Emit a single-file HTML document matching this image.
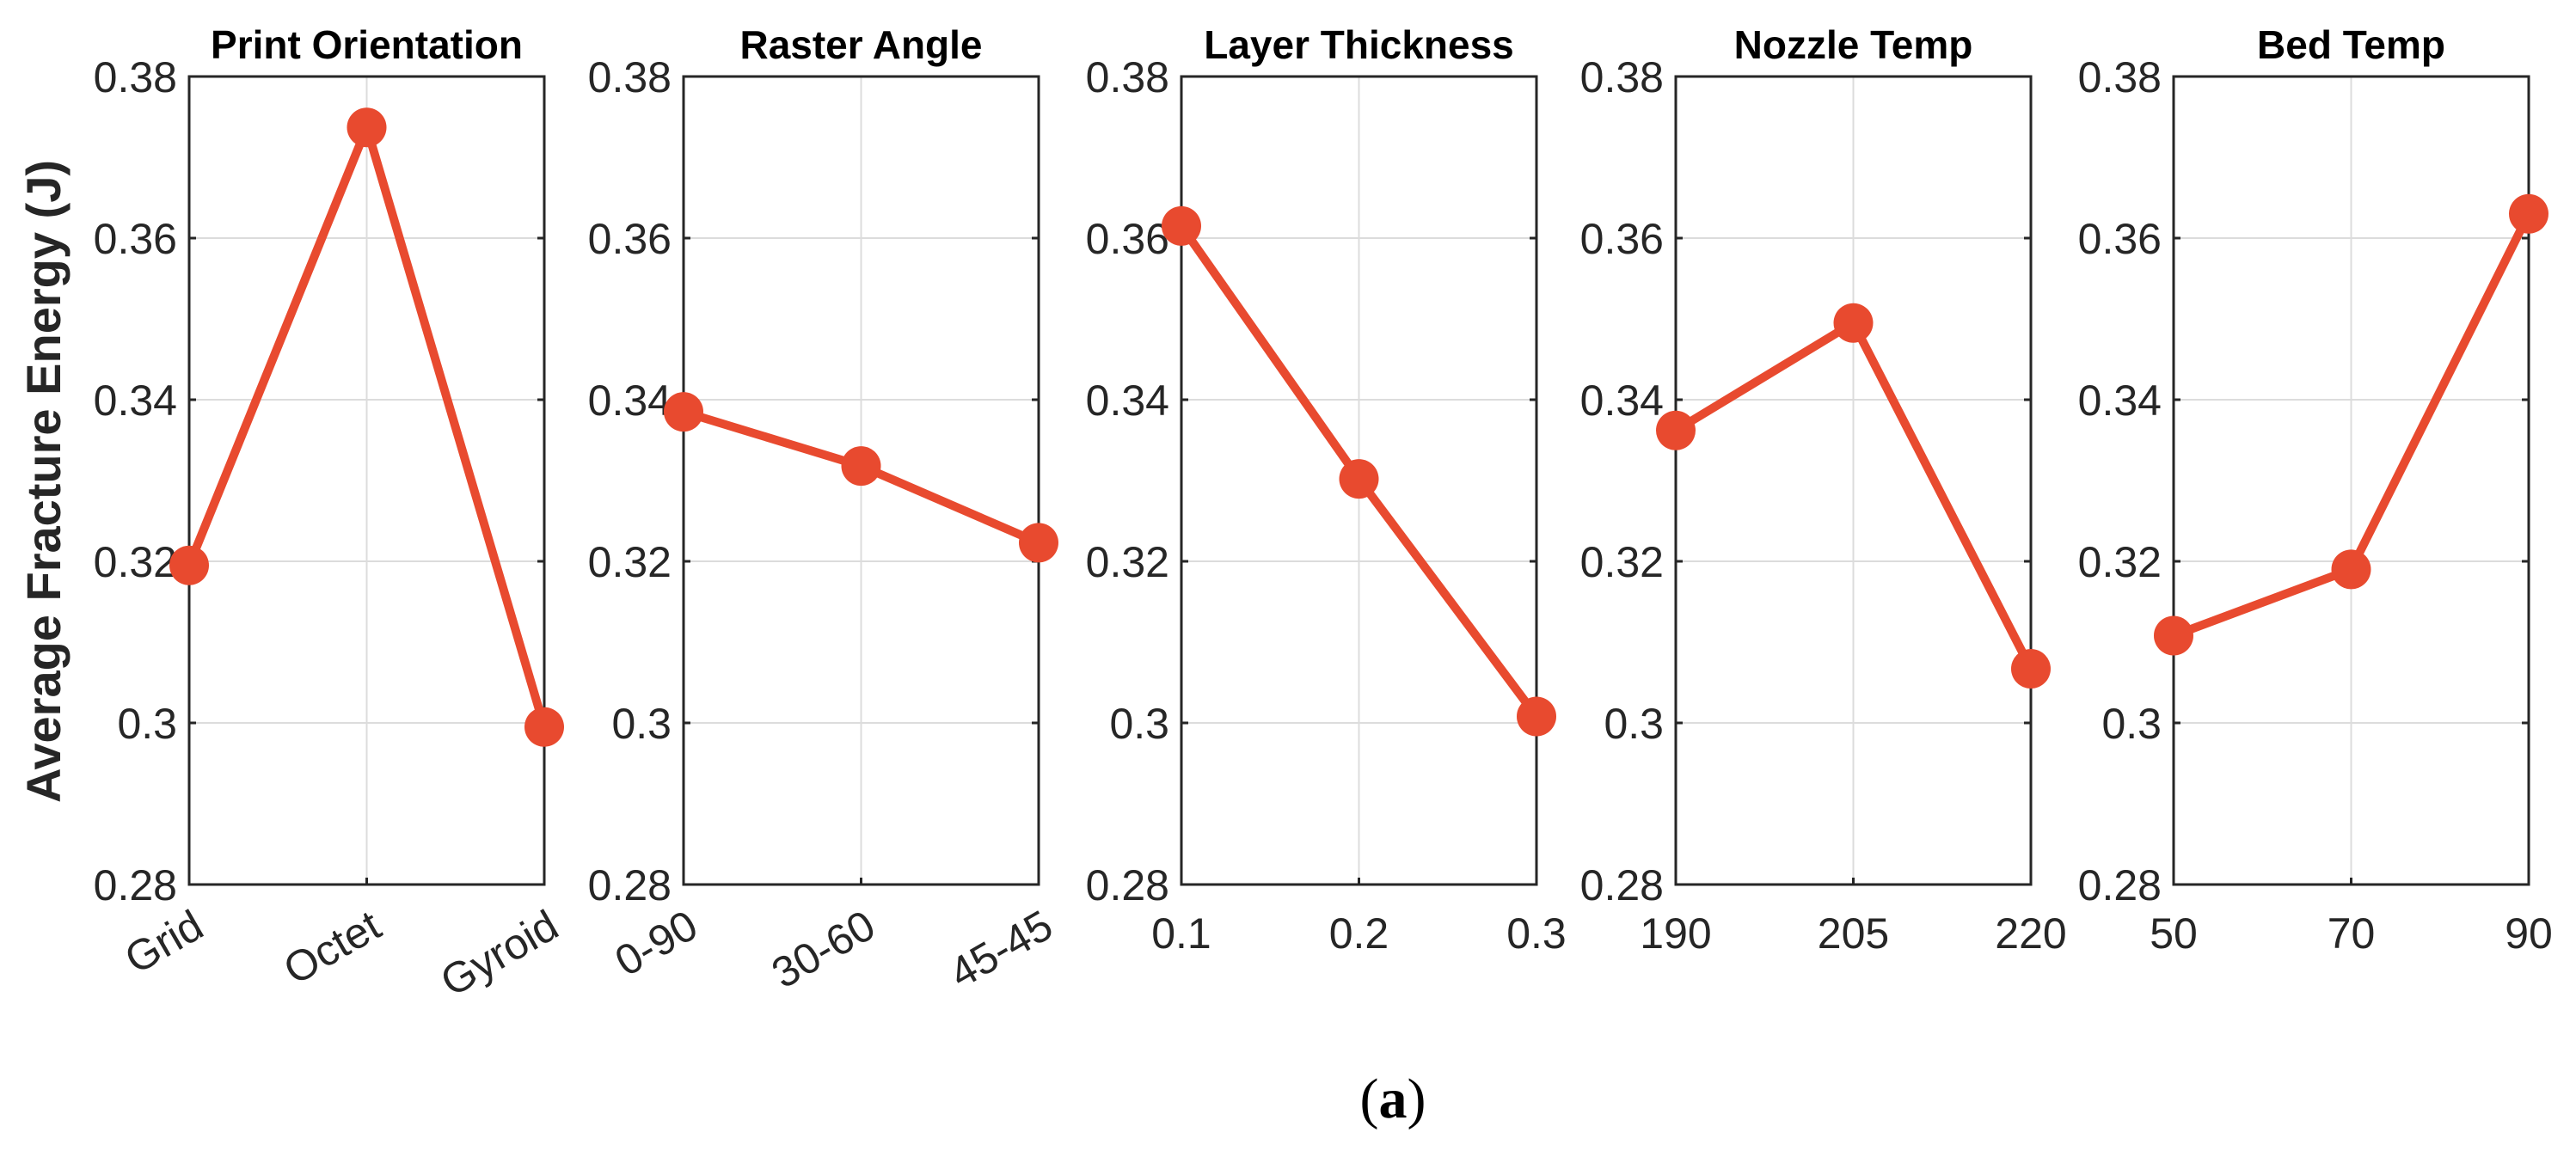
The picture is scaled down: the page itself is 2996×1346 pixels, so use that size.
<!DOCTYPE html>
<html><head><meta charset="utf-8"><style>
html,body{margin:0;padding:0;background:#fff;}
svg{display:block;font-family:"Liberation Sans",sans-serif;}
</style></head><body>
<svg id="chart" width="2996" height="1346" viewBox="0 0 2996 1346" xmlns="http://www.w3.org/2000/svg">
<text transform="translate(70,560) rotate(-90)" text-anchor="middle" font-size="56" font-weight="bold" fill="#262626">Average Fracture Energy (J)</text>
<text x="1620" y="1300" text-anchor="middle" font-size="66" font-family="Liberation Serif, serif" fill="#000">(<tspan font-weight="bold">a</tspan>)</text>
</svg>
<script>
const panelTitles = ["Print Orientation","Raster Angle","Layer Thickness","Nozzle Temp","Bed Temp"];
const categoriesPrint = ["Grid","Octet","Gyroid"];
const categoriesRaster = ["0-90","30-60","45-45"];
const categoriesLayer = ["0.1","0.2","0.3"];
const categoriesNozzle = ["190","205","220"];
const categoriesBed = ["50","70","90"];
const valuesPrint = [0.3195,0.3737,0.2995];
const valuesRaster = [0.3385,0.3318,0.3223];
const valuesLayer = [0.3615,0.3302,0.3008];
const valuesNozzle = [0.3362,0.3495,0.3067];
const valuesBed = [0.3108,0.3190,0.3630];
const yTicks = [0.28,0.30,0.32,0.34,0.36,0.38];
const yTickLabels = ["0.28","0.3","0.32","0.34","0.36","0.38"];
const yMin = 0.28, yMax = 0.38;

const svg = document.getElementById('chart');
const NS = 'http://www.w3.org/2000/svg';
const lefts = [220,795,1374,1949,2528];
const W = 413, TOP = 89, BOT = 1029;
const color = '#e84a2f';
const cats = [categoriesPrint,categoriesRaster,categoriesLayer,categoriesNozzle,categoriesBed];
const vals = [valuesPrint,valuesRaster,valuesLayer,valuesNozzle,valuesBed];
const rotated = [true,true,false,false,false];
function mk(tag, attrs){const e=document.createElementNS(NS,tag);for(const k in attrs)e.setAttribute(k,attrs[k]);return e;}
function yScale(v){return BOT-(v-yMin)/(yMax-yMin)*(BOT-TOP);}

for(let p=0;p<5;p++){
  const L=lefts[p];
  const xScale=i=>L+i*W/(cats[p].length-1);
  const g=mk('g',{});
  
  
  svg.appendChild(g);
  yTicks.forEach((t,i)=>{
    const y=yScale(t);
    if(i>0&&i<yTicks.length-1){
      const gl=mk('line',{x1:L,x2:L+W,y1:y,y2:y,stroke:'#dcdcdc','stroke-width':2});
      
      
      g.appendChild(gl);
    }
    const tl=mk('line',{x1:L,x2:L+8,y1:y,y2:y,stroke:'#262626','stroke-width':3});
    
    
    g.appendChild(tl);
    const tr=mk('line',{x1:L+W-8,x2:L+W,y1:y,y2:y,stroke:'#262626','stroke-width':3});
    
    
    g.appendChild(tr);
    const tx=mk('text',{x:L-14,y:y+18,'text-anchor':'end','font-size':50,fill:'#262626'});
    
    
    tx.textContent=yTickLabels[i];
    g.appendChild(tx);
  });
  cats[p].forEach((c,i)=>{
    const x=xScale(i);
    if(i===1){
      const gl=mk('line',{x1:x,x2:x,y1:TOP,y2:BOT,stroke:'#dcdcdc','stroke-width':2});
      
      
      g.appendChild(gl);
    }
    const tk=mk('line',{x1:x,x2:x,y1:BOT-8,y2:BOT,stroke:'#262626','stroke-width':3});
    
    
    g.appendChild(tk);
    let tx;
    if(rotated[p]){
      tx=mk('text',{x:0,y:0,'text-anchor':'end','font-size':50,fill:'#262626',transform:`translate(${x+20},${BOT+58}) rotate(-30)`});
    }else{
      tx=mk('text',{x:x,y:BOT+74,'text-anchor':'middle','font-size':50,fill:'#262626'});
    }
    
    
    tx.textContent=c;
    g.appendChild(tx);
  });
  const box=mk('rect',{x:L,y:TOP,width:W,height:BOT-TOP,fill:'none',stroke:'#262626','stroke-width':3});
  
  
  g.appendChild(box);
  const tt=mk('text',{x:L+W/2,y:68,'text-anchor':'middle','font-size':46,'font-weight':'bold',fill:'#000'});
  
  
  tt.textContent=panelTitles[p];
  g.appendChild(tt);
  const pts=vals[p].map((v,i)=>xScale(i)+','+yScale(v)).join(' ');
  const pl=mk('polyline',{points:pts,fill:'none',stroke:color,'stroke-width':10,'stroke-linejoin':'round'});
  
  
  g.appendChild(pl);
  vals[p].forEach((v,i)=>{
    const c=mk('circle',{cx:xScale(i),cy:yScale(v),r:23,fill:color});
    
    
    g.appendChild(c);
  });
}
</script>
</body></html>
